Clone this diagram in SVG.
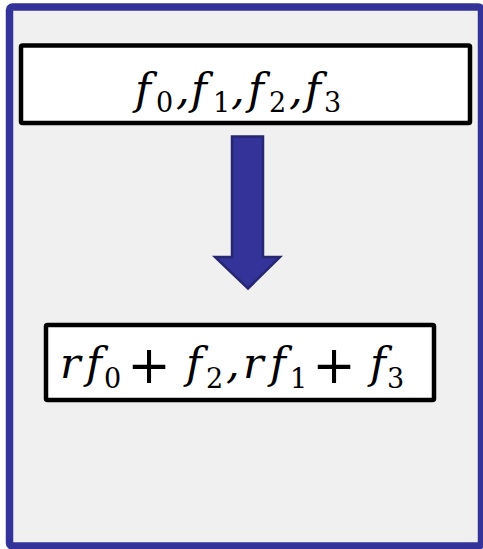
<svg xmlns="http://www.w3.org/2000/svg" width="483" height="549" viewBox="0 0 483 549">
<style>
.frame{fill:#F0F0F0;stroke:#333399;stroke-width:7.5}
.box{fill:#FFFFFF;stroke:#000000;stroke-width:4.5}
.it{font-family:"DejaVu Serif",serif;font-style:italic;font-size:43px;fill:#000}
.sub{font-family:"DejaVu Serif",serif;font-style:normal;font-size:27px}
.plus{font-family:"DejaVu Serif",serif;font-style:normal;font-size:52px;fill:#000}
.arrow{fill:#333399;stroke:#262673;stroke-width:2.5;stroke-linejoin:miter}
</style>
<rect class="frame" x="9.5" y="7" width="472" height="539" rx="3"/>
<g id="node-top">
<rect class="box" x="21" y="45.5" width="449" height="77.5" rx="1.5"/>
<text class="it"><tspan x="135" y="104">f</tspan><tspan class="sub" x="156" y="112">0</tspan><tspan x="176" y="104">,</tspan><tspan x="191" y="104">f</tspan><tspan class="sub" x="213" y="112">1</tspan><tspan x="231" y="104">,</tspan><tspan x="248" y="104">f</tspan><tspan class="sub" x="269" y="112">2</tspan><tspan x="289" y="104">,</tspan><tspan x="305" y="104">f</tspan><tspan class="sub" x="324" y="112">3</tspan></text>
</g>
<g id="connectors">
<path class="arrow" d="M232,136.5 L263,136.5 L263,257 L280,257 L248,288.5 L215,257 L232,257 Z"/>
</g>
<g id="node-bottom">
<rect class="box" x="46" y="325" width="388" height="75" rx="1.5"/>
<text class="it"><tspan x="60" y="378">r</tspan><tspan x="86" y="378">f</tspan><tspan class="sub" x="104" y="388">0</tspan><tspan x="186" y="378">f</tspan><tspan class="sub" x="206" y="388">2</tspan><tspan x="226" y="378">,</tspan><tspan x="243" y="378">r</tspan><tspan x="270" y="378">f</tspan><tspan class="sub" x="290" y="388">1</tspan><tspan x="370" y="378">f</tspan><tspan class="sub" x="387" y="388">3</tspan></text>
<text class="plus" text-anchor="middle"><tspan x="149" y="383">+</tspan><tspan x="334" y="383">+</tspan></text>
</g>
</svg>
